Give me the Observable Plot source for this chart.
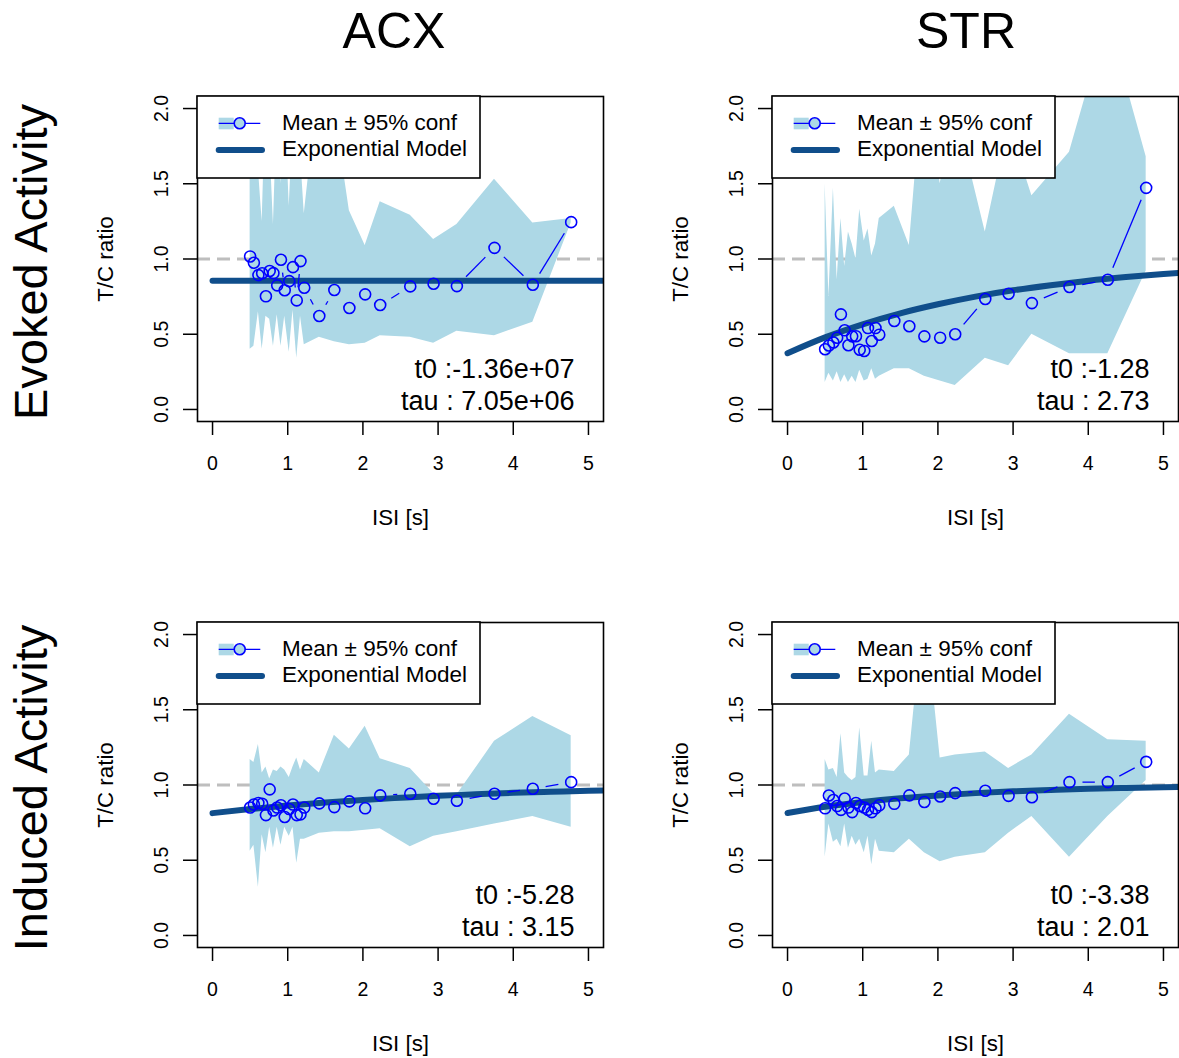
<!DOCTYPE html>
<html>
<head>
<meta charset="utf-8">
<script src="https://cdn.jsdelivr.net/npm/d3@7"></script>
<script src="https://cdn.jsdelivr.net/npm/@observablehq/plot@0.6"></script>
<style>
  html, body { margin: 0; padding: 0; background: #ffffff; }
  #root { position: relative; width: 1179px; height: 1058px; overflow: hidden; background: #ffffff; }
  #root svg { position: absolute; }
</style>
</head>
<body>
<div id="root"></div>
<script>
// ---------- data ----------
const columnTitles = ["ACX", "STR"];
const rowTitles = ["Evoked Activity", "Induced Activity"];
const xLabel = "ISI [s]";
const yLabel = "T/C ratio";
const legendLabels = ["Mean \u00B1 95% conf", "Exponential Model"];
const xTicks = [0, 1, 2, 3, 4, 5];
const yTicks = [0, 0.5, 1, 1.5, 2];

// inter-stimulus intervals (s)
const isi = [0.50, 0.55, 0.61, 0.66, 0.71, 0.76, 0.81, 0.86, 0.91, 0.96, 1.02, 1.07, 1.12, 1.17, 1.22,
             1.42, 1.62, 1.82, 2.03, 2.23, 2.63, 2.94, 3.25, 3.75, 4.26, 4.77];

// ACX, evoked
const acxEvokedMean  = [1.017, 0.975, 0.893, 0.905, 0.752, 0.920, 0.906, 0.825, 0.995, 0.792, 0.853, 0.946, 0.725, 0.986, 0.809,
                        0.621, 0.794, 0.674, 0.765, 0.694, 0.818, 0.836, 0.820, 1.074, 0.829, 1.245];
const acxEvokedUpper = [2.30, 2.00, 1.60, 1.25, 2.10, 1.80, 1.23, 2.00, 1.50, 2.10, 1.35, 1.90, 2.20, 1.70, 1.30,
                        2.20, 2.00, 1.32, 1.09, 1.38, 1.29, 1.13, 1.23, 1.53, 1.24, 1.27];
const acxEvokedLower = [0.40, 0.42, 0.65, 0.40, 0.62, 0.60, 0.42, 0.63, 0.42, 0.62, 0.38, 0.66, 0.34, 0.62, 0.43,
                        0.48, 0.45, 0.43, 0.44, 0.49, 0.48, 0.44, 0.52, 0.49, 0.58, 1.24];
const acxEvokedFit = ["t0 :-1.36e+07", "tau : 7.05e+06"];

// STR, evoked
const strEvokedMean  = [0.400, 0.425, 0.445, 0.477, 0.632, 0.526, 0.427, 0.486, 0.487, 0.397, 0.389, 0.541, 0.455, 0.541, 0.497,
                        0.588, 0.553, 0.486, 0.477, 0.500, 0.734, 0.769, 0.707, 0.814, 0.862, 1.473];
const strEvokedUpper = [1.50, 0.75, 1.47, 0.86, 1.27, 0.95, 1.18, 1.10, 1.00, 1.33, 1.12, 1.20, 1.02, 1.10, 1.27,
                        1.35, 1.09, 2.30, 1.50, 2.00, 1.18, 1.90, 1.42, 1.71, 2.60, 1.68];
const strEvokedLower = [0.18, 0.24, 0.19, 0.25, 0.18, 0.23, 0.18, 0.22, 0.18, 0.26, 0.19, 0.20, 0.27, 0.20, 0.22,
                        0.27, 0.27, 0.22, 0.19, 0.16, 0.34, 0.29, 0.50, 0.37, 0.37, 0.92];
const strEvokedFit = ["t0 :-1.28", "tau : 2.73"];

// ACX, induced
const acxInducedMean  = [0.850, 0.870, 0.880, 0.875, 0.800, 0.971, 0.831, 0.850, 0.865, 0.787, 0.840, 0.870, 0.800, 0.805, 0.850,
                         0.878, 0.853, 0.891, 0.845, 0.931, 0.942, 0.909, 0.895, 0.942, 0.975, 1.019];
const acxInducedUpper = [1.17, 1.15, 1.27, 1.08, 1.12, 1.04, 1.10, 1.09, 1.12, 1.10, 1.05, 1.12, 1.18, 1.10, 1.17,
                         1.08, 1.33, 1.24, 1.39, 1.175, 1.11, 0.944, 0.933, 1.29, 1.455, 1.328];
const acxInducedLower = [0.56, 0.60, 0.32, 0.67, 0.55, 0.72, 0.58, 0.72, 0.60, 0.72, 0.66, 0.72, 0.48, 0.64, 0.64,
                         0.68, 0.69, 0.69, 0.70, 0.71, 0.59, 0.66, 0.69, 0.74, 0.79, 0.72];
const acxInducedFit = ["t0 :-5.28", "tau : 3.15"];

// STR, induced
const strInducedMean  = [0.845, 0.930, 0.900, 0.860, 0.835, 0.910, 0.850, 0.820, 0.880, 0.860, 0.850, 0.835, 0.820, 0.845, 0.865,
                         0.875, 0.931, 0.887, 0.924, 0.946, 0.962, 0.928, 0.919, 1.019, 1.019, 1.154];
const strInducedUpper = [1.17, 1.10, 1.11, 1.05, 1.34, 1.08, 1.05, 1.03, 1.05, 1.38, 1.06, 1.06, 1.29, 1.08, 1.10,
                         1.09, 1.20, 2.20, 1.18, 1.20, 1.22, 1.11, 1.20, 1.47, 1.30, 1.29];
const strInducedLower = [0.52, 0.74, 0.62, 0.64, 0.59, 0.74, 0.58, 0.66, 0.60, 0.64, 0.55, 0.66, 0.47, 0.64, 0.56,
                         0.55, 0.64, 0.55, 0.49, 0.52, 0.55, 0.68, 0.79, 0.52, 0.79, 1.03];
const strInducedFit = ["t0 :-3.38", "tau : 2.01"];

// exponential model curves, sampled at these ISIs
const modelX = [0, 0.5, 1, 1.5, 2, 2.5, 3, 3.5, 4, 4.5, 5, 5.5];
const acxEvokedModel  = [0.855, 0.855, 0.855, 0.855, 0.855, 0.855, 0.855, 0.855, 0.855, 0.855, 0.855, 0.855];
const strEvokedModel  = [0.374, 0.479, 0.566, 0.639, 0.699, 0.750, 0.792, 0.826, 0.856, 0.880, 0.900, 0.917];
const acxInducedModel = [0.813, 0.840, 0.864, 0.884, 0.901, 0.915, 0.928, 0.938, 0.948, 0.955, 0.962, 0.967];
const strInducedModel = [0.814, 0.855, 0.887, 0.912, 0.931, 0.946, 0.958, 0.967, 0.975, 0.980, 0.985, 0.988];

// ---------- layout ----------
const FONT = '"Liberation Sans", Arial, Helvetica, sans-serif';
const BAND = "#ADD8E6";
const POINT = "#0000FF";
const MODEL = "#104E8B";
const COL_W = 575, ROW_H = 526;
const GAP = 13; // R type="b" gap around each point, px

const panels = [
  {col: 0, row: 0, mean: acxEvokedMean, lower: acxEvokedLower, upper: acxEvokedUpper, model: acxEvokedModel, fit: acxEvokedFit},
  {col: 1, row: 0, mean: strEvokedMean, lower: strEvokedLower, upper: strEvokedUpper, model: strEvokedModel, fit: strEvokedFit},
  {col: 0, row: 1, mean: acxInducedMean, lower: acxInducedLower, upper: acxInducedUpper, model: acxInducedModel, fit: acxInducedFit},
  {col: 1, row: 1, mean: strInducedMean, lower: strInducedLower, upper: strInducedUpper, model: strInducedModel, fit: strInducedFit}
];

const base = {
  width: 604, height: 526,
  marginLeft: 197, marginRight: 1, marginTop: 96, marginBottom: 105,
  x: {domain: [-0.2, 5.2]},
  y: {domain: [-0.08, 2.08]},
  style: {fontFamily: FONT, fontSize: "19.5px", color: "black", background: "transparent", overflow: "visible"}
};

const root = document.getElementById("root");

panels.forEach(p => {
  const pts = isi.map((x, i) => ({x, y: p.mean[i], lo: p.lower[i], hi: p.upper[i]}));
  const model = modelX.map((x, i) => ({x, y: p.model[i]}));

  // first pass: obtain Plot's scales to decide which connecting segments R would draw
  const probe = Plot.plot({...base, marks: [Plot.frame()]});
  const sx = probe.scale("x"), sy = probe.scale("y");
  const segs = pts.slice(1).map((d, i) => ({x1: pts[i].x, y1: pts[i].y, x2: d.x, y2: d.y}))
    .filter(s => Math.hypot(sx.apply(s.x2) - sx.apply(s.x1), sy.apply(s.y2) - sy.apply(s.y1)) > 2 * GAP + 1);

  const svg = Plot.plot({
    ...base,
    marks: [
      Plot.ruleY([1], {stroke: "#BEBEBE", strokeWidth: 3, strokeDasharray: "13,7"}),
      Plot.areaY(pts, {x: "x", y1: "lo", y2: "hi", fill: BAND, clip: true}),
      Plot.line(model, {x: "x", y: "y", stroke: MODEL, strokeWidth: 6, curve: "monotone-x", strokeLinecap: "round", clip: true}),
      Plot.arrow(segs, {x1: "x1", y1: "y1", x2: "x2", y2: "y2", stroke: POINT, strokeWidth: 1.3, headLength: 0, inset: GAP, strokeLinecap: "butt", clip: true}),
      Plot.dot(pts, {x: "x", y: "y", r: 5.5, stroke: POINT, strokeWidth: 1.6, fill: "none", clip: true}),
      // axes
      Plot.axisX({ticks: xTicks, tickSize: 14, tickFormat: () => "", label: null, strokeWidth: 1.5}),
      Plot.text(xTicks, {x: d => d, text: d => String(d), frameAnchor: "bottom", dy: 48, lineAnchor: "bottom", fontSize: 19.5}),
      Plot.axisY({ticks: yTicks, tickSize: 14, tickFormat: () => "", label: null, strokeWidth: 1.5}),
      Plot.text(yTicks, {y: d => d, text: d => d.toFixed(1), frameAnchor: "left", dx: -30, rotate: -90, textAnchor: "middle", lineAnchor: "bottom", fontSize: 19.5}),
      Plot.text([xLabel], {text: d => d, frameAnchor: "bottom", dy: 103, lineAnchor: "bottom", fontSize: 22.3}),
      Plot.text([yLabel], {text: d => d, frameAnchor: "left", dx: -85, rotate: -90, textAnchor: "middle", lineAnchor: "bottom", fontSize: 22.3}),
      // fit parameters
      Plot.text([p.fit[0]], {text: d => d, frameAnchor: "bottom-right", dx: -29, dy: -44, textAnchor: "end", lineAnchor: "bottom", fontSize: 27}),
      Plot.text([p.fit[1]], {text: d => d, frameAnchor: "bottom-right", dx: -29, dy: -12, textAnchor: "end", lineAnchor: "bottom", fontSize: 27}),
      Plot.frame({stroke: "black", strokeWidth: 1.6})
    ]
  });
  svg.style.left = (p.col * COL_W) + "px";
  svg.style.top = (p.row * ROW_H) + "px";
  root.appendChild(svg);

  // legend box (top-left corner of the plotting region)
  const lg = d3.create("svg")
    .attr("width", 288).attr("height", 86)
    .style("left", (p.col * COL_W + 196) + "px")
    .style("top", (p.row * ROW_H + 95) + "px")
    .style("font-family", FONT);
  lg.append("rect").attr("x", 1).attr("y", 1).attr("width", 283).attr("height", 82)
    .attr("fill", "white").attr("stroke", "black").attr("stroke-width", 1.6);
  lg.append("rect").attr("x", 22.7).attr("y", 22.7).attr("width", 15).attr("height", 11.6).attr("fill", BAND);
  lg.append("line").attr("x1", 22.7).attr("x2", 64.3).attr("y1", 28.3).attr("y2", 28.3)
    .attr("stroke", POINT).attr("stroke-width", 1.3);
  lg.append("circle").attr("cx", 43.7).attr("cy", 28.3).attr("r", 5.5)
    .attr("fill", BAND).attr("stroke", POINT).attr("stroke-width", 1.6);
  lg.append("line").attr("x1", 22.7).attr("x2", 66).attr("y1", 55).attr("y2", 55)
    .attr("stroke", MODEL).attr("stroke-width", 6).attr("stroke-linecap", "round");
  lg.append("text").attr("x", 86).attr("y", 35.3).attr("font-size", 22.5).text(legendLabels[0]);
  lg.append("text").attr("x", 86).attr("y", 61).attr("font-size", 22.5).text(legendLabels[1]);
  root.appendChild(lg.node());
});

// column and row titles
const ttl = d3.create("svg").attr("width", 1179).attr("height", 1058)
  .style("left", "0px").style("top", "0px").style("pointer-events", "none")
  .style("font-family", FONT);
const colCenters = [394, 966];
columnTitles.forEach((t, i) => {
  ttl.append("text").attr("x", colCenters[i]).attr("y", 48).attr("text-anchor", "middle")
    .attr("font-size", 50).text(t);
});
const rowCenters = [262, 788];
rowTitles.forEach((t, i) => {
  ttl.append("text").attr("transform", `translate(47,${rowCenters[i]}) rotate(-90)`)
    .attr("text-anchor", "middle").attr("font-size", 47).text(t);
});
root.appendChild(ttl.node());
</script>
</body>
</html>
